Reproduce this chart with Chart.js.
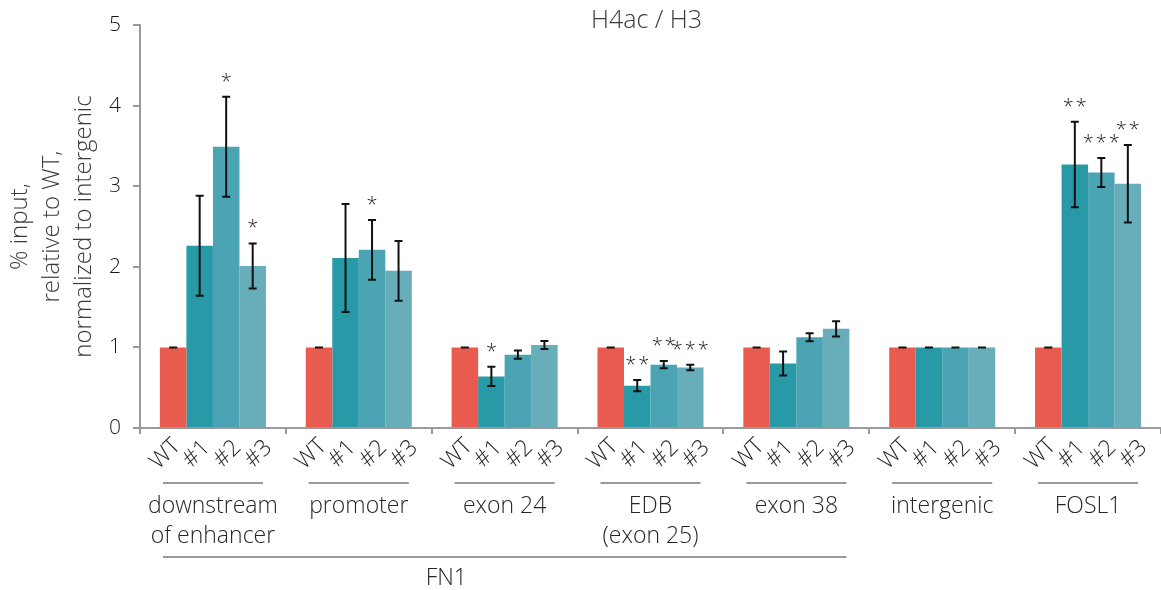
<!DOCTYPE html>
<html>
<head>
<meta charset="utf-8">
<script src="https://cdn.jsdelivr.net/npm/chart.js@4.4.1/dist/chart.umd.min.js"></script>
<style>
  html, body { margin: 0; padding: 0; background: #fff; }
</style>
</head>
<body>
<canvas id="myChart" width="1161" height="590"></canvas>
<script>
// regions (x groups) and the four samples in each
const regions = [['downstream', 'of enhancer'], ['promoter'], ['exon 24'], ['EDB', '(exon 25)'], ['exon 38'], ['intergenic'], ['FOSL1']];
const samples = ['WT', '#1', '#2', '#3'];

// mean values
const wt = [1, 1, 1, 1, 1, 1, 1];
const clone1 = [2.26, 2.11, 0.64, 0.525, 0.80, 1, 3.27];
const clone2 = [3.49, 2.21, 0.91, 0.785, 1.125, 1, 3.17];
const clone3 = [2.01, 1.95, 1.03, 0.75, 1.23, 1, 3.03];

// error bar half-lengths
const errWt = [0, 0, 0, 0, 0, 0, 0];
const err1 = [0.62, 0.67, 0.12, 0.07, 0.15, 0, 0.53];
const err2 = [0.62, 0.37, 0.05, 0.045, 0.05, 0, 0.18];
const err3 = [0.28, 0.37, 0.05, 0.035, 0.095, 0, 0.48];

// significance marks
const sigWt = ['', '', '', '', '', '', ''];
const sig1 = ['', '', '*', '**', '', '', '**'];
const sig2 = ['*', '*', '', '**', '', '', '***'];
const sig3 = ['*', '', '', '***', '', '', '**'];

const yTicks = [0, 1, 2, 3, 4, 5];

const errors = [errWt, err1, err2, err3];
const sigs = [sigWt, sig1, sig2, sig3];
const colors = ['#e85b4e', '#2899a6', '#4aa4b3', '#68adba'];

const FONT = "'Open Sans', sans-serif";
const TEXT = '#262626';
const LINE = '#9a9a9a';

const extras = {
  id: 'extras',
  afterDatasetsDraw(chart) {
    const ctx = chart.ctx;
    const y = chart.scales.y;
    ctx.save();
    chart.data.datasets.forEach((ds, i) => {
      chart.getDatasetMeta(i).data.forEach((bar, j) => {
        const v = ds.data[j], e = errors[i][j];
        const top = y.getPixelForValue(v + e);
        const bot = y.getPixelForValue(v - e);
        ctx.strokeStyle = '#111';
        ctx.lineWidth = 2;
        ctx.beginPath();
        ctx.moveTo(bar.x, top); ctx.lineTo(bar.x, bot);
        ctx.moveTo(bar.x - 4, top); ctx.lineTo(bar.x + 4, top);
        ctx.moveTo(bar.x - 4, bot); ctx.lineTo(bar.x + 4, bot);
        ctx.stroke();
        if (sigs[i][j]) {
          ctx.fillStyle = TEXT;
          ctx.font = '300 20px ' + FONT;
          ctx.letterSpacing = '2px';
          ctx.textAlign = 'center';
          ctx.textBaseline = 'alphabetic';
          ctx.fillText(sigs[i][j], bar.x + 1, top - 9);
          ctx.letterSpacing = '0px';
        }
      });
    });
    ctx.restore();
  },
  afterDraw(chart) {
    const ctx = chart.ctx;
    const x = chart.scales.x;
    const area = chart.chartArea;
    ctx.save();

    // title
    ctx.font = '300 25px ' + FONT;
    ctx.textAlign = 'center';
    ctx.textBaseline = 'middle';
    ctx.fillStyle = '#3a3a3a';
    ctx.fillText('H4ac / H3', (area.left + area.right) / 2 - 4, 21);
    ctx.fillStyle = TEXT;

    // rotated sample labels, spread a little wider than the bars
    ctx.font = '300 23px ' + FONT;
    chart.data.datasets.forEach((ds, i) => {
      chart.getDatasetMeta(i).data.forEach((bar, j) => {
        const cx = x.getPixelForValue(j);
        ctx.save();
        ctx.translate(cx + (bar.x - cx) * 1.17 - 1, area.bottom + 26);
        ctx.rotate(-Math.PI / 4);
        ctx.textAlign = 'center';
        ctx.textBaseline = 'middle';
        ctx.fillText(samples[i], 0, 0);
        ctx.restore();
      });
    });

    // region brackets and names
    const first = chart.getDatasetMeta(0).data;
    const last = chart.getDatasetMeta(3).data;
    ctx.strokeStyle = LINE;
    ctx.lineWidth = 2;
    ctx.font = '300 23px ' + FONT;
    ctx.textAlign = 'center';
    ctx.textBaseline = 'middle';
    regions.forEach((lines, j) => {
      const l = first[j].x - first[j].width / 2 + 3;
      const r = last[j].x + last[j].width / 2 - 3;
      ctx.beginPath();
      ctx.moveTo(l, 483); ctx.lineTo(r, 483);
      ctx.stroke();
      lines.forEach((t, k) => ctx.fillText(t, x.getPixelForValue(j), 506 + k * 30));
    });

    // FN1 bracket over the first five regions
    const l = first[0].x - first[0].width / 2 + 3;
    const r = last[4].x + last[4].width / 2 - 3;
    ctx.beginPath();
    ctx.moveTo(l, 557); ctx.lineTo(r, 557);
    ctx.stroke();
    ctx.fillText('FN1', x.getPixelForValue(1.6), 578);
    ctx.restore();
  }
};

new Chart(document.getElementById('myChart'), {
  type: 'bar',
  data: {
    labels: regions.map(r => r.join(' ')),
    datasets: [wt, clone1, clone2, clone3].map((d, i) => ({
      label: samples[i],
      data: d,
      backgroundColor: colors[i],
      borderWidth: 0,
      categoryPercentage: 0.727,
      barPercentage: 1
    }))
  },
  options: {
    responsive: false,
    animation: false,
    layout: { padding: { top: 25, right: 0, bottom: 0, left: 0 } },
    plugins: {
      legend: { display: false },
      title: { display: false },
      tooltip: { enabled: false }
    },
    scales: {
      x: {
        ticks: { display: false },
        grid: { drawOnChartArea: false, tickLength: 6, color: LINE, lineWidth: 2, offset: true },
        border: { color: LINE, width: 2 },
        afterFit(s) { s.height = 162; }
      },
      y: {
        min: 0,
        max: 5,
        afterBuildTicks(s) { s.ticks = yTicks.map(v => ({ value: v })); },
        ticks: { color: '#1a1a1a', font: { family: FONT, size: 21, weight: '300' }, padding: 12 },
        grid: { drawOnChartArea: false, tickLength: 7, color: LINE, lineWidth: 2 },
        border: { color: LINE, width: 2 },
        title: {
          display: true,
          text: ['% input,', 'relative to WT,', 'normalized to intergenic'],
          color: '#3a3a3a',
          font: { family: FONT, size: 24, weight: '300', lineHeight: 1.33 },
          padding: { top: 4, bottom: 0 }
        },
        afterFit(s) { s.width = 140; }
      }
    }
  },
  plugins: [extras]
});
</script>
</body>
</html>
